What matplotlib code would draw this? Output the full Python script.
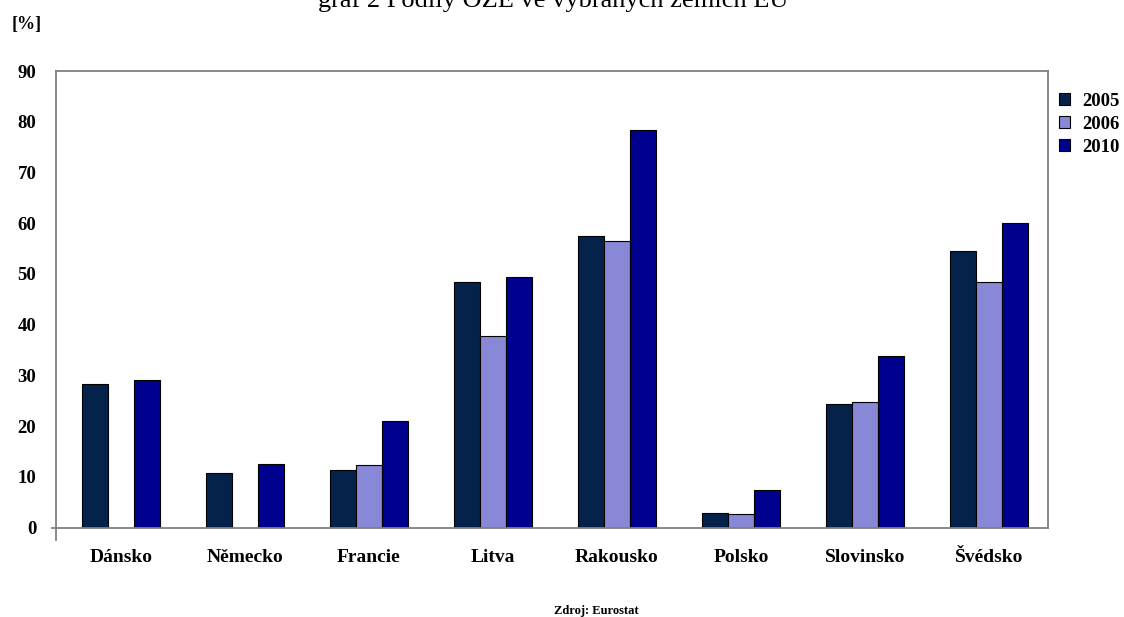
import numpy as np
import matplotlib
matplotlib.use("Agg")
import matplotlib.pyplot as plt
from matplotlib.lines import Line2D

# Share of renewable energy sources by country and year [%]
countries = ["Dánsko", "Německo", "Francie", "Litva", "Rakousko", "Polsko", "Slovinsko", "Švédsko"]
years = ["2005", "2006", "2010"]
v2005 = [28.3, 10.7, 11.3, 48.5, 57.4, 2.9, 24.4, 54.5]
v2006 = [np.nan, np.nan, 12.3, 37.7, 56.6, 2.8, 24.7, 48.4]
v2010 = [29.2, 12.6, 21.1, 49.4, 78.4, 7.5, 33.8, 60.1]
yticks = list(range(0, 91, 10))

colors = ["#05224A", "#8888D6", "#00008E"]
serif = ["Liberation Serif", "DejaVu Serif"]

fig = plt.figure(figsize=(11.24, 6.17), dpi=100)
ax = fig.add_axes([0.0496, 0.1447, 0.8828, 0.7402])

x = np.arange(len(countries))
w = 0.211
series = [v2005, v2006, v2010]
handles = []
for i, (vals, col, lab) in enumerate(zip(series, colors, years)):
    b = ax.bar(x + (i - 1) * w, vals, width=w, color=col, edgecolor="black",
               linewidth=0.8, label=lab)
    handles.append(b)

ax.set_xlim(-0.525, len(countries) - 0.525)
ax.set_ylim(0, 90)
ax.set_yticks(yticks)
ax.set_yticklabels([str(t) for t in yticks], fontfamily=serif, fontweight="bold", fontsize=13.5)
ax.set_xticks(x)
ax.set_xticklabels(countries, fontfamily=serif, fontweight="bold", fontsize=14)
ax.tick_params(axis="y", length=0, pad=14)
ax.tick_params(axis="x", length=0, pad=15)

for s in ax.spines.values():
    s.set_color("#808080")
    s.set_linewidth(1.3)

# small axis overhangs at the origin
ax.add_line(Line2D([0, 0], [0, -12 / 456.7], transform=ax.transAxes,
                   color="#808080", lw=1.3, clip_on=False))
ax.add_line(Line2D([-4 / 992, 0], [0, 0], transform=ax.transAxes,
                   color="#808080", lw=1.3, clip_on=False))

leg = fig.legend(handles=handles, labels=years, loc="upper left",
                 bbox_to_anchor=(1059 / 1124, 1 - 93 / 617), frameon=False,
                 prop={"family": serif, "weight": "bold", "size": 13.5},
                 handlelength=0.6, handleheight=0.6, handletextpad=0.65,
                 labelspacing=0.32, borderaxespad=0, borderpad=0)

fig.text(0.492, 1 - 6.7 / 617, "graf 2 Podíly OZE ve vybraných zemích EU",
         ha="center", va="baseline", fontfamily=serif, fontsize=19)
fig.text(12 / 1124, 1 - 24 / 617, "[%]", ha="left", va="center",
         fontfamily=serif, fontweight="bold", fontsize=13)
fig.text(596 / 1124, 1 - 614 / 617, "Zdroj: Eurostat", ha="center", va="baseline",
         fontfamily=serif, fontweight="bold", fontsize=9)

fig.savefig("out.png", dpi=100)
